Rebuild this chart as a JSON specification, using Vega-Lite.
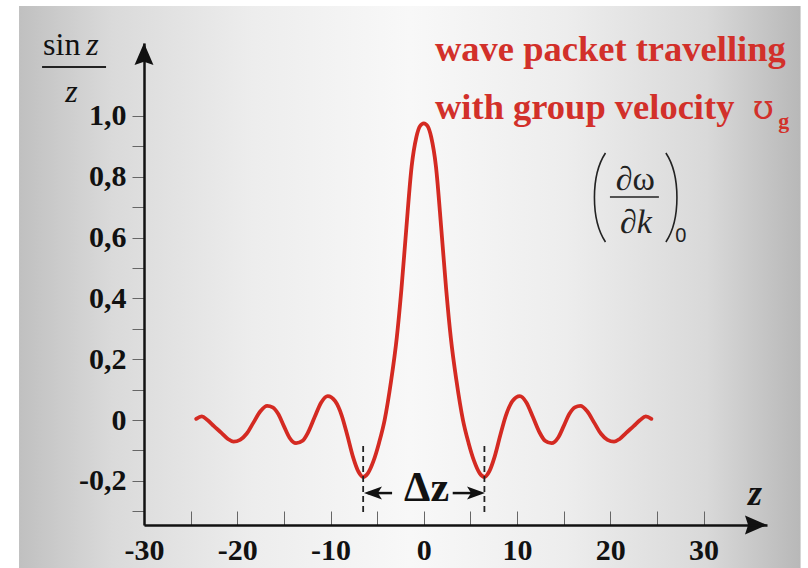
{
 "$schema": "https://vega.github.io/schema/vega-lite/v6.json",
 "width": 623,
 "height": 482,
 "autosize": {"type": "none"},
 "padding": {"left": 144, "top": 43, "right": 41, "bottom": 43},
 "background": "white",
 "config": {"view": {"stroke": null}},
 "data": {"values": [
  {"z": -24.4, "v": 0.004}, {"z": -23.8, "v": 0.012}, {"z": -23.2, "v": 0.0}, {"z": -22.5, "v": -0.02}, {"z": -21.7, "v": -0.042},
  {"z": -21.0, "v": -0.062}, {"z": -20.4, "v": -0.071}, {"z": -19.7, "v": -0.065}, {"z": -19.0, "v": -0.045}, {"z": -18.3, "v": -0.01},
  {"z": -17.5, "v": 0.03}, {"z": -16.8, "v": 0.047}, {"z": -16.2, "v": 0.042}, {"z": -15.6, "v": 0.02}, {"z": -15.0, "v": -0.02},
  {"z": -14.4, "v": -0.058}, {"z": -13.7, "v": -0.076}, {"z": -13.0, "v": -0.068}, {"z": -12.4, "v": -0.04}, {"z": -11.7, "v": 0.01},
  {"z": -11.0, "v": 0.058}, {"z": -10.3, "v": 0.079}, {"z": -9.5, "v": 0.062}, {"z": -8.8, "v": 0.015}, {"z": -8.2, "v": -0.05},
  {"z": -7.6, "v": -0.12}, {"z": -7.0, "v": -0.17}, {"z": -6.5, "v": -0.187}, {"z": -6.0, "v": -0.175}, {"z": -5.4, "v": -0.135},
  {"z": -4.8, "v": -0.075}, {"z": -4.2, "v": 0.0}, {"z": -3.5, "v": 0.13}, {"z": -2.9, "v": 0.27}, {"z": -2.4, "v": 0.43},
  {"z": -1.9, "v": 0.62}, {"z": -1.3, "v": 0.835}, {"z": -0.8, "v": 0.93}, {"z": -0.4, "v": 0.967}, {"z": 0.0, "v": 0.976},
  {"z": 0.4, "v": 0.967}, {"z": 0.8, "v": 0.93}, {"z": 1.3, "v": 0.835}, {"z": 1.9, "v": 0.62}, {"z": 2.4, "v": 0.43},
  {"z": 2.9, "v": 0.27}, {"z": 3.5, "v": 0.13}, {"z": 4.2, "v": 0.0}, {"z": 4.8, "v": -0.075}, {"z": 5.4, "v": -0.135},
  {"z": 6.0, "v": -0.175}, {"z": 6.5, "v": -0.187}, {"z": 7.0, "v": -0.17}, {"z": 7.6, "v": -0.12}, {"z": 8.2, "v": -0.05},
  {"z": 8.8, "v": 0.015}, {"z": 9.5, "v": 0.062}, {"z": 10.3, "v": 0.079}, {"z": 11.0, "v": 0.058}, {"z": 11.7, "v": 0.01},
  {"z": 12.4, "v": -0.04}, {"z": 13.0, "v": -0.068}, {"z": 13.7, "v": -0.076}, {"z": 14.4, "v": -0.058}, {"z": 15.0, "v": -0.02},
  {"z": 15.6, "v": 0.02}, {"z": 16.2, "v": 0.042}, {"z": 16.8, "v": 0.047}, {"z": 17.5, "v": 0.03}, {"z": 18.3, "v": -0.01},
  {"z": 19.0, "v": -0.045}, {"z": 19.7, "v": -0.065}, {"z": 20.4, "v": -0.071}, {"z": 21.0, "v": -0.062}, {"z": 21.7, "v": -0.042},
  {"z": 22.5, "v": -0.02}, {"z": 23.2, "v": 0.0}, {"z": 23.8, "v": 0.012}, {"z": 24.4, "v": 0.004}
 ]},
 "layer": [
  {
   "data": {"values": [{}]},
   "mark": {"type": "rect", "fill": {"gradient": "linear", "x1": 0, "y1": 0, "x2": 1, "y2": 0, "stops": [
     {"offset": 0, "color": "#c0c0c0"}, {"offset": 0.12, "color": "#dadada"}, {"offset": 0.3, "color": "#ededed"},
     {"offset": 0.5, "color": "#f8f8f8"}, {"offset": 0.7, "color": "#ededed"}, {"offset": 0.88, "color": "#d9d9d9"},
     {"offset": 1, "color": "#b8b8b8"}]}},
   "encoding": {
    "x": {"datum": -43.4, "type": "quantitative"},
    "x2": {"datum": 40.4},
    "y": {"datum": 1.362, "type": "quantitative"},
    "y2": {"datum": -0.49}
   }
  },
  {
   "mark": {"type": "line", "color": "#d42a22", "strokeWidth": 3.8, "interpolate": "monotone", "strokeCap": "round", "strokeJoin": "round"},
   "encoding": {
    "x": {"field": "z", "type": "quantitative",
     "scale": {"domain": [-30, 36.8], "nice": false, "zero": false},
     "axis": {"title": null, "grid": false, "zindex": 1, "tickCount": 30, "values": [-30, -25, -20, -15, -10, -5, 0, 5, 10, 15, 20, 25, 30],
      "labelExpr": "datum.value % 10 === 0 ? (datum.value < 0 ? '-' + abs(datum.value) : '' + datum.value) : ''",
      "domainColor": "#111", "domainWidth": 2.5, "tickColor": "#666", "tickWidth": 1, "tickSize": -14,
      "labelPadding": 24, "labelFont": "Liberation Serif", "labelFontWeight": "bold", "labelFontSize": 30,
      "labelColor": "#111", "labelBaseline": "top", "labelFlush": false, "labelOverlap": false}},
    "y": {"field": "v", "type": "quantitative",
     "scale": {"domain": [-0.345, 1.24], "nice": false, "zero": false},
     "axis": {"title": null, "grid": false, "zindex": 1, "tickCount": 30, "values": [-0.3, -0.2, -0.1, 0, 0.1, 0.2, 0.3, 0.4, 0.5, 0.6, 0.7, 0.8, 0.9, 1.0],
      "labelExpr": "round(datum.value*10) % 2 !== 0 ? '' : (round(datum.value*10) === 0 ? '0' : (datum.value < 0 ? '-' : '') + floor(round(abs(datum.value)*10)/10) + ',' + (round(abs(datum.value)*10) % 10))",
      "domainColor": "#111", "domainWidth": 2.5, "tickColor": "#666", "tickWidth": 1, "tickSize": 12,
      "labelPadding": 6, "labelFont": "Liberation Serif", "labelFontWeight": "bold", "labelFontSize": 30,
      "labelColor": "#111", "labelFlush": false, "labelOverlap": false}}
   }
  },
  {"data": {"values": [{}]}, "mark": {"type": "rule", "strokeDash": [6, 4], "strokeWidth": 1.8, "color": "#222"},
   "encoding": {"x": {"datum": -6.5}, "y": {"datum": -0.085}, "y2": {"datum": -0.31}}},
  {"data": {"values": [{}]}, "mark": {"type": "rule", "strokeDash": [6, 4], "strokeWidth": 1.8, "color": "#222"},
   "encoding": {"x": {"datum": 6.5}, "y": {"datum": -0.085}, "y2": {"datum": -0.31}}},
  {"data": {"values": [{}]}, "mark": {"type": "rule", "strokeWidth": 2.5, "color": "#111"},
   "encoding": {"x": {"datum": -6.0}, "x2": {"datum": -3.4}, "y": {"datum": -0.24}}},
  {"data": {"values": [{}]}, "mark": {"type": "rule", "strokeWidth": 2.5, "color": "#111"},
   "encoding": {"x": {"datum": 3.1}, "x2": {"datum": 6.0}, "y": {"datum": -0.24}}},
  {"data": {"values": [{}]}, "mark": {"type": "point", "shape": "M-1,0L1,-0.72L0.55,0L1,0.72Z", "size": 324, "filled": true, "color": "#111", "opacity": 1},
   "encoding": {"x": {"datum": -5.45}, "y": {"datum": -0.24}}},
  {"data": {"values": [{}]}, "mark": {"type": "point", "shape": "M1,0L-1,-0.72L-0.55,0L-1,0.72Z", "size": 324, "filled": true, "color": "#111", "opacity": 1},
   "encoding": {"x": {"datum": 5.6}, "y": {"datum": -0.24}}},
  {"data": {"values": [{}]}, "mark": {"type": "text", "text": "Δz", "font": "Liberation Serif", "fontWeight": "bold", "fontSize": 42, "color": "#111", "align": "center", "baseline": "alphabetic"},
   "encoding": {"x": {"datum": 0.3}, "y": {"datum": -0.266}}},
  {"data": {"values": [{}]}, "mark": {"type": "text", "text": "z", "font": "Liberation Serif", "fontStyle": "italic", "fontWeight": "bold", "fontSize": 36, "color": "#111", "align": "center", "baseline": "alphabetic"},
   "encoding": {"x": {"datum": 35.5}, "y": {"datum": -0.28}}},
  {"data": {"values": [{}]}, "mark": {"type": "point", "shape": "M0,-1L0.86,1L0,0.72L-0.86,1Z", "size": 484, "filled": true, "color": "#111", "opacity": 1},
   "encoding": {"x": {"datum": -30}, "y": {"datum": 1.204}}},
  {"data": {"values": [{}]}, "mark": {"type": "point", "shape": "M1,0L-1,-0.86L-0.72,0L-1,0.86Z", "size": 484, "filled": true, "color": "#111", "opacity": 1},
   "encoding": {"x": {"datum": 35.62}, "y": {"datum": -0.345}}},
  {"data": {"values": [{}]}, "mark": {"type": "text", "text": "sin", "font": "Liberation Serif", "fontSize": 32, "color": "#111", "align": "left", "baseline": "alphabetic"},
   "encoding": {"x": {"datum": -40.82}, "y": {"datum": 1.2007}}},
  {"data": {"values": [{}]}, "mark": {"type": "text", "text": "z", "font": "Liberation Serif", "fontStyle": "italic", "fontSize": 32, "color": "#111", "align": "left", "baseline": "alphabetic"},
   "encoding": {"x": {"datum": -36.2}, "y": {"datum": 1.2007}}},
  {"data": {"values": [{}]}, "mark": {"type": "rule", "strokeWidth": 2, "color": "#222"},
   "encoding": {"x": {"datum": -40.93}, "x2": {"datum": -34.07}, "y": {"datum": 1.161}}},
  {"data": {"values": [{}]}, "mark": {"type": "text", "text": "z", "font": "Liberation Serif", "fontStyle": "italic", "fontSize": 32, "color": "#111", "align": "center", "baseline": "alphabetic"},
   "encoding": {"x": {"datum": -37.77}, "y": {"datum": 1.046}}},
  {"data": {"values": [{}]}, "mark": {"type": "point", "shape": "M0.124,-1C-0.207,-0.5 -0.207,0.5 0.124,1", "size": 7921, "filled": false, "color": "#222", "strokeWidth": 1.6, "opacity": 1},
   "encoding": {"x": {"datum": 18.89}, "y": {"datum": 0.732}}},
  {"data": {"values": [{}]}, "mark": {"type": "point", "shape": "M-0.124,-1C0.207,-0.5 0.207,0.5 -0.124,1", "size": 7921, "filled": false, "color": "#222", "strokeWidth": 1.6, "opacity": 1},
   "encoding": {"x": {"datum": 26.55}, "y": {"datum": 0.732}}},
  {"data": {"values": [{}]}, "mark": {"type": "text", "text": "∂ω", "font": "Liberation Serif", "fontSize": 34, "color": "#222", "align": "center", "baseline": "alphabetic"},
   "encoding": {"x": {"datum": 22.68}, "y": {"datum": 0.757}}},
  {"data": {"values": [{}]}, "mark": {"type": "rule", "strokeWidth": 1.6, "color": "#222"},
   "encoding": {"x": {"datum": 19.96}, "x2": {"datum": 25.21}, "y": {"datum": 0.7336}}},
  {"data": {"values": [{}]}, "mark": {"type": "text", "text": "∂k", "font": "Liberation Serif", "fontStyle": "italic", "fontSize": 34, "color": "#222", "align": "center", "baseline": "alphabetic"},
   "encoding": {"x": {"datum": 22.75}, "y": {"datum": 0.615}}},
  {"data": {"values": [{}]}, "mark": {"type": "text", "text": "0", "font": "Liberation Sans", "fontSize": 20, "color": "#222", "align": "center", "baseline": "alphabetic"},
   "encoding": {"x": {"datum": 27.57}, "y": {"datum": 0.5855}}},
  {"data": {"values": [{}]}, "mark": {"type": "text", "text": "wave packet travelling", "font": "Liberation Serif", "fontWeight": "bold", "fontSize": 36.5, "color": "#d2302a", "align": "left", "baseline": "alphabetic"},
   "encoding": {"x": {"datum": 1.2}, "y": {"datum": 1.181}}},
  {"data": {"values": [{}]}, "mark": {"type": "text", "text": "with group velocity", "font": "Liberation Serif", "fontWeight": "bold", "fontSize": 36.5, "color": "#d2302a", "align": "left", "baseline": "alphabetic"},
   "encoding": {"x": {"datum": 1.2}, "y": {"datum": 0.99}}},
  {"data": {"values": [{}]}, "mark": {"type": "text", "text": "ʊ", "font": "DejaVu Serif", "fontSize": 34, "color": "#d2302a", "align": "center", "baseline": "alphabetic"},
   "encoding": {"x": {"datum": 36.4}, "y": {"datum": 0.99}}},
  {"data": {"values": [{}]}, "mark": {"type": "text", "text": "g", "font": "Liberation Serif", "fontWeight": "bold", "fontSize": 22, "color": "#d2302a", "align": "center", "baseline": "alphabetic"},
   "encoding": {"x": {"datum": 38.6}, "y": {"datum": 0.962}}}
 ]
}
